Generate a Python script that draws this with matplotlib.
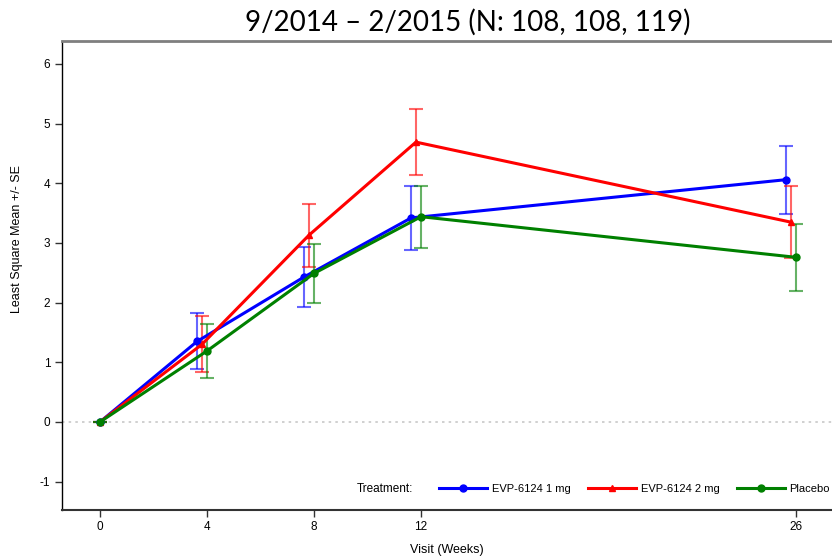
import matplotlib
matplotlib.use("Agg")
import matplotlib.pyplot as plt
import numpy as np

# visit weeks and least-square means +/- SE per treatment arm
weeks = [0, 4, 8, 12, 26]
treatments = ["EVP-6124 1 mg", "EVP-6124 2 mg", "Placebo"]
lsm_1mg = [0.0, 1.35, 2.43, 3.42, 4.06]
se_1mg = [0.0, 0.47, 0.51, 0.53, 0.57]
lsm_2mg = [0.0, 1.30, 3.13, 4.69, 3.35]
se_2mg = [0.0, 0.47, 0.53, 0.55, 0.60]
lsm_pbo = [0.0, 1.19, 2.49, 3.44, 2.76]
se_pbo = [0.0, 0.45, 0.49, 0.52, 0.56]

COLORS = ["#0000ff", "#ff0000", "#008000"]
MARKERS = ["o", "^", "o"]
MSIZE = [5, 4.5, 5]
# small horizontal cluster offset so error bars don't overlap
OFFSETS = [-0.37, -0.19, 0.0]

plt.rcParams["font.family"] = ["Liberation Sans", "DejaVu Sans"]
plt.rcParams["axes.unicode_minus"] = False

fig = plt.figure(figsize=(8.32, 5.59), dpi=100)
ax = fig.add_axes([0.0745, 0.0877, 0.9255, 0.839])

ax.axhline(0, color="#c8c8c8", lw=1.2, ls=(0, (1.5, 2.5)), zorder=0)

series = [(lsm_1mg, se_1mg), (lsm_2mg, se_2mg), (lsm_pbo, se_pbo)]
for i, (lsm, se) in enumerate(series):
    wk = np.array(weeks, dtype=float)
    x = np.where(wk > 0, wk + OFFSETS[i], wk)
    ax.errorbar(x, lsm, yerr=se, fmt="none", ecolor=COLORS[i], alpha=0.6,
                elinewidth=1.5, capsize=5, capthick=1.5, zorder=2)
    ax.plot(x, lsm, color=COLORS[i], lw=2.2, marker=MARKERS[i],
            ms=MSIZE[i], label=treatments[i], zorder=3)

ax.set_xlim(-1.42, 27.36)
ax.set_ylim(-1.475, 6.385)
ax.set_xticks(weeks)
ax.set_yticks(range(-1, 7))
ax.tick_params(axis="both", direction="out", length=5, width=1,
               labelsize=8.5, colors="#333333", labelcolor="black")
ax.tick_params(axis="x", pad=3)

ax.spines["right"].set_visible(False)
ax.spines["top"].set_color("#7f7f7f")
ax.spines["top"].set_linewidth(2)
ax.spines["left"].set_color("black")
ax.spines["left"].set_linewidth(1)
ax.spines["bottom"].set_color("#333333")
ax.spines["bottom"].set_linewidth(1.5)

ax.set_xlabel("Visit (Weeks)", fontsize=9, labelpad=8)
ax.set_ylabel("Least Square Mean +/- SE", fontsize=9)
ax.yaxis.set_label_coords(-0.05, 0.577)

fig.text(0.562, 0.96, "9/2014 \u2013 2/2015 (N: 108, 108, 119)",
         ha="center", va="center", fontsize=20,
         family=["Lato", "DejaVu Sans"])

ax.text(0.3833, 0.045, "Treatment:", transform=ax.transAxes,
        fontsize=8.5, va="center", ha="left")
ax.legend(loc="center left", bbox_to_anchor=(0.49, 0.045), ncol=3,
          frameon=False, fontsize=8, handlelength=4.3, handletextpad=0.45,
          columnspacing=1.55, borderaxespad=0, borderpad=0)

fig.savefig("out.png", dpi=100)
